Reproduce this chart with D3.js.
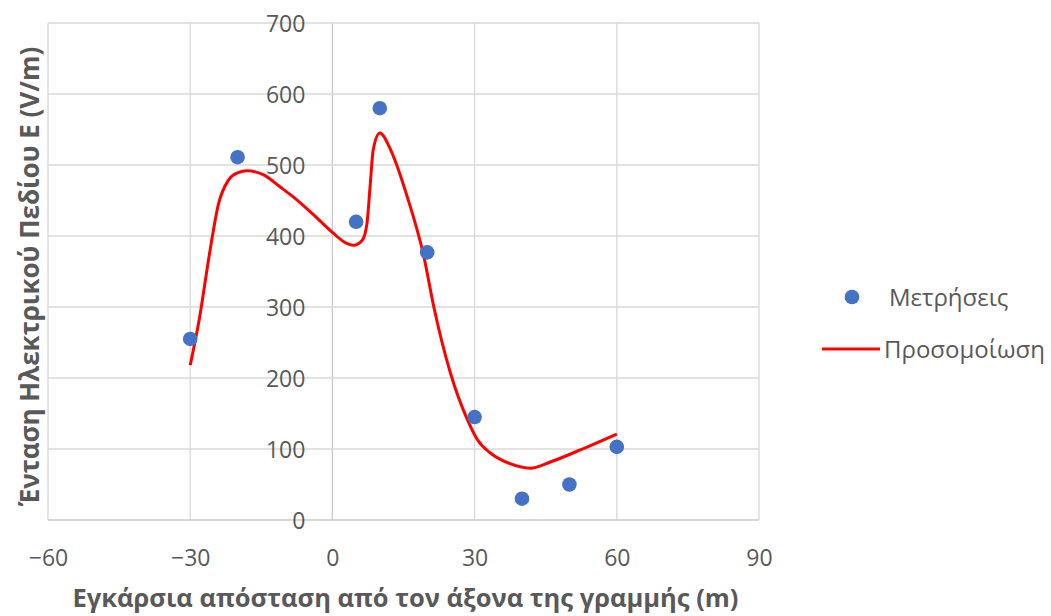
<!DOCTYPE html>
<html><head><meta charset="utf-8">
<script src="https://cdn.jsdelivr.net/npm/d3@7/dist/d3.min.js"></script>
<style>body{margin:0;background:#fff}svg{display:block}text{font-family:"Open Sans",sans-serif}</style>
</head><body>
<svg id="c" width="1051" height="616"></svg>
<script>
const measX = [-30, -20, 5, 10, 20, 30, 40, 50, 60];
const measY = [255, 511, 420, 580, 377, 145, 30, 50, 103];
const simX = [-30, -28, -26, -24, -22, -20, -18, -14.5, -11, -7.5, -4, 0, 2.4, 4.5, 6.3, 7.3, 8, 8.6, 10, 12.3, 15.8, 19.3, 21.4, 24.9, 28.5, 30.6, 33.4, 37.6, 41.8, 46.1, 53.1, 60];
const simY = [218, 286, 372, 446, 478, 489, 492, 486, 469, 451, 430, 405, 392, 387, 394, 418, 474, 521, 545, 521, 455, 371, 300, 207, 141, 113, 94, 79, 73, 82, 101, 121];
const xTicks = [-60, -30, 0, 30, 60, 90];
const yTicks = [0, 100, 200, 300, 400, 500, 600, 700];
const seriesNames = ["Μετρήσεις", "Προσομοίωση"];
const xTitle = "Εγκάρσια απόσταση από τον άξονα της γραμμής (m)";
const yTitle = "Ένταση Ηλεκτρικού Πεδίου Ε (V/m)";

const svg = d3.select("#c");
const L = 48, R = 759, T = 23, B = 520;
const x = d3.scaleLinear().domain([-60, 90]).range([L, R]);
const y = d3.scaleLinear().domain([0, 700]).range([B, T]);
const grey = "#595959";

const g = svg.append("g");
g.selectAll(".vg").data(xTicks).join("line")
  .attr("x1", d => x(d)).attr("x2", d => x(d)).attr("y1", T).attr("y2", B)
  .attr("stroke", d => d === 0 ? "#c8c8c8" : "#d9d9d9").attr("stroke-width", 1.3);
g.selectAll(".hg").data(yTicks).join("line")
  .attr("x1", L).attr("x2", R).attr("y1", d => y(d)).attr("y2", d => y(d))
  .attr("stroke", d => d === 0 ? "#c8c8c8" : "#d9d9d9").attr("stroke-width", 1.3);

const xAxis = d3.axisBottom(x).tickValues(xTicks).tickSize(0).tickPadding(0);
const ax = svg.append("g").attr("transform", `translate(0,${B})`).call(xAxis);
ax.select(".domain").remove();
ax.selectAll("text").attr("fill", grey).style("font-size", "23px").attr("dy", null).attr("y", 46);

const yAxis = d3.axisLeft(y).tickValues(yTicks).tickSize(0).tickPadding(0);
const ay = svg.append("g").attr("transform", `translate(${x(0) - 27},0)`).call(yAxis);
ay.select(".domain").remove();
ay.selectAll("text").attr("fill", grey).style("font-size", "23px").attr("dy", "0.36em");

const line = d3.line().x((d, i) => x(simX[i])).y((d, i) => y(simY[i])).curve(d3.curveMonotoneX);
svg.append("path").datum(simY).attr("d", line).attr("fill", "none").attr("stroke", "#ff0000").attr("stroke-width", 3);

svg.selectAll(".pt").data(measY).join("circle")
  .attr("cx", (d, i) => x(measX[i])).attr("cy", d => y(d)).attr("r", 7.3).attr("fill", "#4472c4");

svg.append("text").attr("x", (L + R) / 2 + 2).attr("y", 607).attr("text-anchor", "middle")
  .attr("fill", grey).style("font-size", "25.5px").style("font-weight", "bold").text(xTitle);
svg.append("text").attr("transform", `translate(39,${(T + B) / 2 + 5}) rotate(-90)`).attr("text-anchor", "middle")
  .attr("fill", grey).style("font-size", "26px").style("font-weight", "bold").text(yTitle);

const lg = svg.append("g");
lg.append("circle").attr("cx", 852).attr("cy", 297).attr("r", 7.3).attr("fill", "#4472c4");
lg.append("text").attr("x", 889).attr("y", 297).attr("dy", "0.36em").attr("fill", grey).style("font-size", "24px").text(seriesNames[0]);
lg.append("line").attr("x1", 822).attr("x2", 880).attr("y1", 349).attr("y2", 349).attr("stroke", "#ff0000").attr("stroke-width", 3);
lg.append("text").attr("x", 884).attr("y", 349).attr("dy", "0.36em").attr("fill", grey).style("font-size", "24px").text(seriesNames[1]);
</script>
</body></html>
